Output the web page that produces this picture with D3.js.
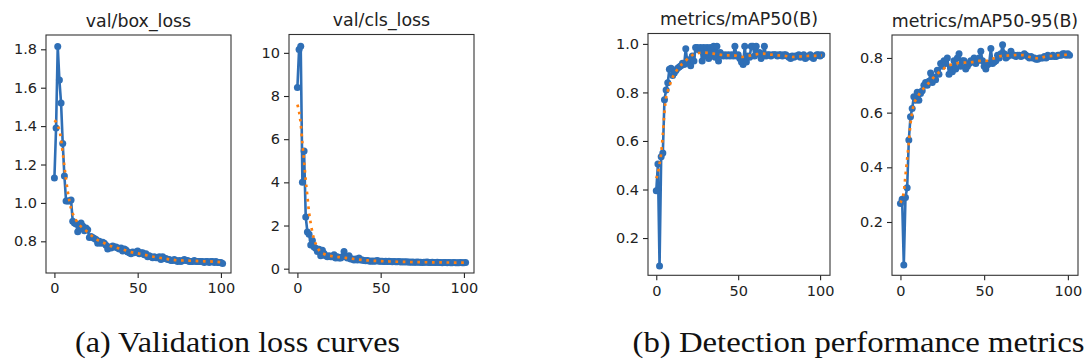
<!DOCTYPE html>
<html><head><meta charset="utf-8">
<script src="https://cdn.jsdelivr.net/npm/d3@7"></script>
<style>body{margin:0;background:#fff} svg{display:block}</style>
</head><body>
<svg id="c" width="1087" height="363"></svg>
<script>
// ---------------- DATA ----------------
const titles = ["val/box_loss", "val/cls_loss", "metrics/mAP50(B)", "metrics/mAP50-95(B)"];
const captions = ["(a) Validation loss curves", "(b) Detection performance metrics"];
const xTicks = [0, 50, 100];
const yTicksBox = [0.8, 1.0, 1.2, 1.4, 1.6, 1.8];
const yTicksCls = [0, 2, 4, 6, 8, 10];
const yTicksMap50 = [0.2, 0.4, 0.6, 0.8, 1.0];
const yTicksMap5095 = [0.2, 0.4, 0.6, 0.8];

// raw per-epoch values (epoch = index)
const boxLoss = [1.13,1.39,1.815,1.64,1.52,1.31,1.14,1.01,1.01,1.01,1.015,0.905,0.895,0.89,0.85,0.875,0.895,0.88,0.855,0.87,
0.86,0.82,0.825,0.82,0.815,0.81,0.79,0.8,0.79,0.795,0.79,0.78,0.76,0.77,0.765,0.775,0.77,0.77,0.765,0.76,
0.765,0.75,0.76,0.755,0.745,0.74,0.735,0.745,0.74,0.745,0.75,0.735,0.74,0.74,0.73,0.735,0.72,0.725,0.72,0.715,
0.72,0.715,0.715,0.72,0.705,0.72,0.71,0.71,0.705,0.705,0.70,0.70,0.705,0.70,0.695,0.70,0.695,0.70,0.705,0.70,
0.70,0.695,0.695,0.695,0.70,0.695,0.695,0.695,0.695,0.695,0.69,0.695,0.695,0.69,0.695,0.695,0.69,0.695,0.69,0.69,
0.69,0.685];
const clsLoss = [8.4,10.15,10.3,4.0,5.45,2.4,1.7,1.6,1.1,1.3,1.0,0.95,0.8,0.9,0.6,0.85,0.7,0.6,0.55,0.6,
0.55,0.55,0.65,0.5,0.55,0.5,0.5,0.55,0.8,0.55,0.5,0.6,0.45,0.45,0.4,0.45,0.4,0.5,0.4,0.4,
0.38,0.37,0.38,0.36,0.35,0.36,0.35,0.36,0.38,0.35,0.34,0.35,0.33,0.34,0.33,0.35,0.33,0.32,0.33,0.32,
0.32,0.33,0.31,0.32,0.31,0.32,0.31,0.31,0.3,0.31,0.3,0.3,0.31,0.3,0.3,0.29,0.3,0.3,0.31,0.29,
0.29,0.3,0.29,0.29,0.3,0.29,0.29,0.28,0.29,0.29,0.28,0.29,0.28,0.28,0.29,0.28,0.28,0.28,0.29,0.28,
0.28,0.29];
const map50 = [0.395,0.505,0.085,0.535,0.55,0.77,0.81,0.84,0.895,0.9,0.87,0.88,0.89,0.9,0.905,0.91,0.92,0.915,0.98,0.92,
0.935,0.91,0.95,0.93,0.985,0.985,0.975,0.985,0.93,0.985,0.95,0.985,0.94,0.985,0.95,0.99,0.945,0.99,0.93,0.965,
0.955,0.95,0.955,0.95,0.955,0.95,0.955,0.95,0.99,0.95,0.955,0.94,0.925,0.915,0.99,0.925,0.95,0.945,0.99,0.99,
0.95,0.99,0.96,0.965,0.94,0.955,0.99,0.95,0.955,0.955,0.95,0.955,0.955,0.955,0.95,0.955,0.955,0.95,0.955,0.955,
0.95,0.945,0.94,0.95,0.945,0.95,0.95,0.955,0.945,0.95,0.955,0.94,0.945,0.95,0.955,0.945,0.94,0.95,0.955,0.955,
0.95,0.955];
const map5095 = [0.268,0.283,0.043,0.29,0.325,0.5,0.585,0.615,0.658,0.645,0.675,0.645,0.67,0.68,0.70,0.71,0.70,0.715,0.745,0.71,
0.73,0.72,0.755,0.74,0.78,0.77,0.79,0.78,0.80,0.74,0.765,0.75,0.79,0.76,0.80,0.815,0.77,0.79,0.79,0.76,
0.77,0.78,0.79,0.785,0.80,0.78,0.79,0.80,0.825,0.79,0.77,0.76,0.775,0.78,0.835,0.78,0.785,0.79,0.81,0.80,
0.815,0.848,0.815,0.80,0.805,0.81,0.825,0.81,0.81,0.805,0.81,0.81,0.805,0.81,0.815,0.81,0.805,0.80,0.805,0.80,
0.80,0.795,0.795,0.80,0.80,0.80,0.805,0.80,0.81,0.805,0.805,0.81,0.805,0.805,0.81,0.81,0.81,0.815,0.815,0.81,
0.815,0.81];

// smoothed curves, [epoch, value] samples
const boxSmooth = [[0,1.43],[1,1.42],[2,1.40],[3,1.38],[4,1.33],[5,1.26],[6,1.19],[7,1.12],[8,1.06],[9,1.01],[10,0.97],
[11,0.945],[12,0.925],[13,0.91],[14,0.895],[15,0.885],[17,0.87],[19,0.855],[21,0.84],[23,0.825],[25,0.812],[27,0.802],
[29,0.795],[32,0.782],[35,0.772],[38,0.765],[42,0.755],[46,0.744],[50,0.737],[54,0.73],[58,0.722],[62,0.716],[66,0.71],
[70,0.705],[74,0.701],[78,0.70],[84,0.698],[90,0.696],[96,0.694],[101,0.69]];
const clsSmooth = [[0,7.6],[1,7.27],[2,6.7],[3,5.8],[4,5.0],[5,4.1],[6,3.35],[7,2.6],[8,2.1],[9,1.68],[10,1.36],
[11,1.15],[12,0.98],[13,0.86],[14,0.76],[16,0.68],[18,0.62],[20,0.59],[23,0.55],[26,0.53],[29,0.5],[32,0.47],[35,0.44],
[38,0.41],[42,0.385],[46,0.365],[50,0.35],[55,0.335],[60,0.322],[65,0.313],[70,0.305],[75,0.3],[80,0.295],[85,0.29],
[90,0.287],[95,0.284],[101,0.282]];
const map50Smooth = [[0,0.446],[1,0.468],[2,0.505],[3,0.55],[4,0.625],[5,0.72],[6,0.78],[7,0.805],[8,0.825],[9,0.845],
[10,0.862],[11,0.875],[12,0.886],[14,0.905],[17,0.924],[20,0.943],[24,0.96],[29,0.964],[33,0.962],[38,0.956],[43,0.953],
[47,0.953],[52,0.946],[56,0.95],[61,0.957],[65,0.96],[70,0.956],[74,0.953],[79,0.95],[83,0.946],[88,0.948],[92,0.95],
[97,0.951],[101,0.953]];
const map5095Smooth = [[0,0.27],[1,0.285],[2,0.31],[3,0.37],[4,0.43],[5,0.49],[6,0.56],[7,0.6],[8,0.63],[9,0.646],
[10,0.655],[12,0.675],[14,0.69],[16,0.702],[19,0.723],[22,0.742],[25,0.757],[28,0.77],[31,0.777],[34,0.781],[38,0.783],
[43,0.785],[47,0.789],[51,0.789],[55,0.797],[60,0.807],[65,0.809],[70,0.811],[74,0.81],[78,0.802],[82,0.799],[86,0.804],
[91,0.808],[96,0.811],[101,0.812]];

// ---------------- LAYOUT ----------------
const layout = [
  {left:46,  right:231,  top:35,   bottom:273,   ydom:[0.635,1.8745], fmt:d3.format(".1f")},
  {left:289, right:474,  top:34.5, bottom:273,   ydom:[-0.2,10.85],   fmt:d3.format("d")},
  {left:648, right:830,  top:33.5, bottom:275.3, ydom:[0.0465,1.0428],fmt:d3.format(".1f")},
  {left:892, right:1078, top:35,   bottom:275.3, ydom:[0.005,0.884],  fmt:d3.format(".1f")}
];
const series = [boxLoss, clsLoss, map50, map5095];
const smooths = [boxSmooth, clsSmooth, map50Smooth, map5095Smooth];
const yTickSets = [yTicksBox, yTicksCls, yTicksMap50, yTicksMap5095];

const BLUE = "#2f6fb6", ORANGE = "#ff7f0e", INK = "#222";
const svg = d3.select("#c");
const sans = "DejaVu Sans, sans-serif";

layout.forEach((L, k) => {
  const x = d3.scaleLinear().domain([-5.05, 106.05]).range([L.left, L.right]);
  const y = d3.scaleLinear().domain(L.ydom).range([L.bottom, L.top]);
  const g = svg.append("g");

  const clipId = "clip" + k;
  g.append("clipPath").attr("id", clipId).append("rect")
    .attr("x", L.left).attr("y", L.top).attr("width", L.right - L.left).attr("height", L.bottom - L.top);

  const plot = g.append("g").attr("clip-path", `url(#${clipId})`);
  const data = series[k].map((v, i) => [i, v]);
  plot.append("path").datum(data)
    .attr("fill", "none").attr("stroke", BLUE).attr("stroke-width", 2.6)
    .attr("stroke-linejoin", "round")
    .attr("d", d3.line().x(d => x(d[0])).y(d => y(d[1])));
  plot.selectAll("circle").data(data).join("circle")
    .attr("cx", d => x(d[0])).attr("cy", d => y(d[1])).attr("r", 3.5).attr("fill", BLUE);
  plot.append("path").datum(smooths[k])
    .attr("fill", "none").attr("stroke", ORANGE).attr("stroke-width", 2.7)
    .attr("stroke-dasharray", "2.7,4.6")
    .attr("d", d3.line().curve(d3.curveMonotoneX).x(d => x(d[0])).y(d => y(d[1])));

  // axes
  const ax = g.append("g").attr("transform", `translate(0,${L.bottom})`)
    .call(d3.axisBottom(x).tickValues(xTicks).tickSize(5).tickPadding(5).tickFormat(d3.format("d")));
  const ay = g.append("g").attr("transform", `translate(${L.left},0)`)
    .call(d3.axisLeft(y).tickValues(yTickSets[k]).tickSize(5).tickPadding(4).tickFormat(L.fmt));
  [ax, ay].forEach(a => {
    a.select(".domain").remove();
    a.selectAll(".tick line").attr("stroke", INK).attr("stroke-width", 1.1);
    a.selectAll(".tick text").attr("fill", INK).style("font-family", sans).style("font-size", "14.5px");
  });

  g.append("rect").attr("x", L.left).attr("y", L.top)
    .attr("width", L.right - L.left).attr("height", L.bottom - L.top)
    .attr("fill", "none").attr("stroke", "#333").attr("stroke-width", 1.1);

  g.append("text").attr("x", (L.left + L.right) / 2).attr("y", L.top - 8.5)
    .attr("text-anchor", "middle").attr("fill", INK)
    .style("font-family", sans).style("font-size", "17.4px").text(titles[k]);
});

// captions
const capPos = [{x:237.5, w:325}, {x:858.5, w:452}];
captions.forEach((c, i) => {
  svg.append("text").attr("x", capPos[i].x - capPos[i].w / 2).attr("y", 352)
    .attr("textLength", capPos[i].w).attr("lengthAdjust", "spacingAndGlyphs")
    .attr("fill", "#111")
    .style("font-family", "Liberation Serif, serif").style("font-size", "30px").text(c);
});
</script>
</body></html>
